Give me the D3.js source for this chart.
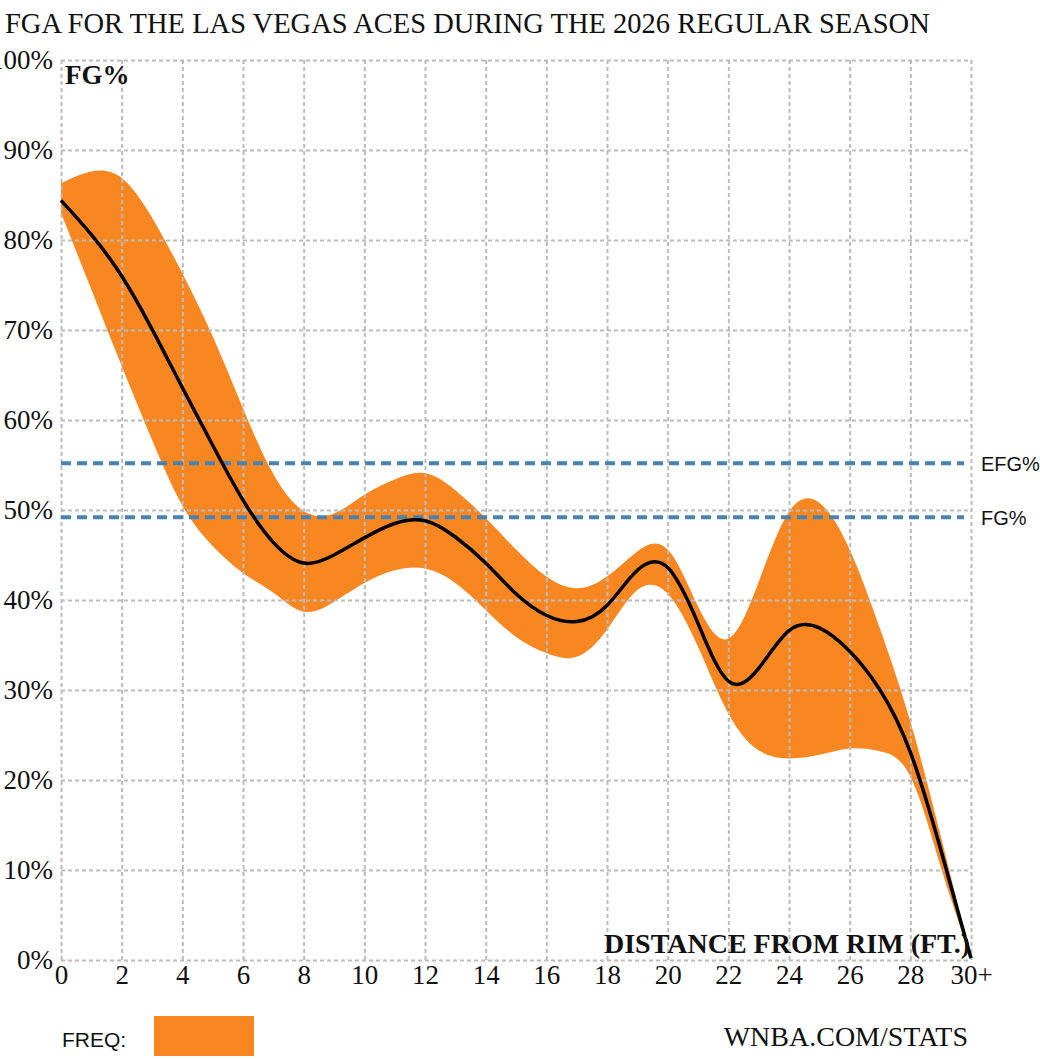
<!DOCTYPE html>
<html>
<head>
<meta charset="utf-8">
<script src="https://cdn.jsdelivr.net/npm/d3@7"></script>
<style>
  body { margin: 0; background: #fff; }
  svg { display: block; }
  .serif { font-family: "Liberation Serif", "Times New Roman", serif; fill: #111; }
  .sans { font-family: "Liberation Sans", Arial, sans-serif; fill: #111; }
  .grid line { stroke: #bbb; stroke-width: 2; stroke-dasharray: 4,3; }
  .grid path { display: none; }
</style>
</head>
<body>
<svg id="chart" width="1040" height="1060"></svg>
<script>
// distance from rim, ft (30 = 30+)
var distances = [0,1,2,3,4,5,6,7,8,9,10,11,12,13,14,15,16,17,18,19,20,21,22,23,24,25,26,27,28,29,30];

// field goal % by distance (black line)
var fgPct = [84.4,80.6,76.0,70.1,63.6,57.2,51.1,46.4,44.1,45.0,46.9,48.5,48.8,47.0,44.1,40.7,38.3,37.6,39.4,43.3,43.6,37.4,31.0,32.4,36.6,36.9,34.3,30.0,23.1,12.3,0.2];

// orange band, upper / lower edge
var bandHigh = [86.3,87.6,86.9,82.5,76.3,69.3,61.3,54.0,49.9,49.6,51.7,53.4,54.1,52.2,49.1,45.6,42.6,41.3,42.6,45.4,45.6,39.3,35.7,42.0,49.8,50.8,45.6,36.8,26.5,13.8,0.2];
var bandLow  = [83.0,74.5,66.0,57.8,50.5,46.0,43.0,40.8,38.7,39.8,41.9,43.3,43.5,41.9,38.9,35.9,34.1,33.7,36.7,41.1,40.7,34.8,27.4,23.3,22.4,22.8,23.5,23.2,20.4,10.4,0.2];

// league reference lines
var refLines = [{label: "EFG%", value: 55.2}, {label: "FG%", value: 49.2}];

var yTicks = [0,10,20,30,40,50,60,70,80,90,100];
var xTicks = [0,2,4,6,8,10,12,14,16,18,20,22,24,26,28,30];

var svg = d3.select("#chart");
var plotLeft = 61, plotRight = 971, plotTop = 60, plotBottom = 960;

var x = d3.scaleLinear().domain([0, 30]).range([plotLeft, plotRight]);
var y = d3.scaleLinear().domain([0, 100]).range([plotBottom, plotTop]);

// title
svg.append("text").attr("class", "serif")
    .attr("x", 5).attr("y", 33)
    .style("font-size", "28.5px")
    .text("FGA FOR THE LAS VEGAS ACES DURING THE 2026 REGULAR SEASON");

// band
var rows = distances.map(function(d, i) {
    return {d: d, fg: fgPct[i], hi: bandHigh[i], lo: bandLow[i]};
});

var area = d3.area()
    .x(function(r) { return x(r.d); })
    .y0(function(r) { return y(r.lo); })
    .y1(function(r) { return y(r.hi); })
    .curve(d3.curveNatural);

svg.append("path").datum(rows)
    .attr("d", area)
    .attr("fill", "#f88621");

// grid
svg.append("g").attr("class", "grid")
    .attr("transform", "translate(" + plotLeft + ",0)")
    .call(d3.axisLeft(y).tickValues(yTicks).tickSize(-(plotRight - plotLeft)).tickFormat(""));

svg.append("g").attr("class", "grid")
    .attr("transform", "translate(0," + plotBottom + ")")
    .call(d3.axisBottom(x).tickValues(xTicks).tickSize(-(plotBottom - plotTop)).tickFormat(""));

// reference lines
refLines.forEach(function(r) {
    svg.append("line")
        .attr("x1", plotLeft).attr("x2", 964)
        .attr("y1", y(r.value)).attr("y2", y(r.value))
        .attr("stroke", "#4682b4")
        .attr("stroke-width", 4)
        .attr("stroke-dasharray", "10,6");
    svg.append("text").attr("class", "sans")
        .attr("x", 981).attr("y", y(r.value) + 3)
        .attr("dominant-baseline", "middle")
        .style("font-size", "20px")
        .text(r.label);
});

// fg% line
var line = d3.line()
    .x(function(r) { return x(r.d); })
    .y(function(r) { return y(r.fg); })
    .curve(d3.curveNatural);

svg.append("path").datum(rows)
    .attr("d", line)
    .attr("fill", "none")
    .attr("stroke", "#000")
    .attr("stroke-width", 3.5);

// axis labels
var yAxis = svg.append("g")
    .attr("transform", "translate(" + (plotLeft - 8) + ",0)")
    .call(d3.axisLeft(y).tickValues(yTicks).tickSize(0).tickPadding(0)
        .tickFormat(function(d) { return d + "%"; }));
yAxis.select(".domain").remove();
yAxis.selectAll("text").attr("class", "serif")
    .style("font-size", "27px")
    .attr("dy", "0.32em");

var xAxis = svg.append("g")
    .attr("transform", "translate(0," + plotBottom + ")")
    .call(d3.axisBottom(x).tickValues(xTicks).tickSize(0).tickPadding(0)
        .tickFormat(function(d) { return d == 30 ? "30+" : d; }));
xAxis.select(".domain").remove();
xAxis.selectAll("text").attr("class", "serif")
    .style("font-size", "27px")
    .attr("y", 24).attr("dy", 0);

svg.append("text").attr("class", "serif")
    .attr("x", 65).attr("y", 84)
    .style("font-size", "27px").style("font-weight", "bold")
    .text("FG%");

svg.append("text").attr("class", "serif")
    .attr("x", 970).attr("y", 953)
    .attr("text-anchor", "end")
    .style("font-size", "28px").style("font-weight", "bold")
    .text("DISTANCE FROM RIM (FT.)");

// legend + source
svg.append("text").attr("class", "sans")
    .attr("x", 62).attr("y", 1047)
    .style("font-size", "21px")
    .text("FREQ:");

svg.append("rect")
    .attr("x", 154).attr("y", 1016)
    .attr("width", 100).attr("height", 40)
    .attr("fill", "#f88621");

svg.append("text").attr("class", "serif")
    .attr("x", 968).attr("y", 1046)
    .attr("text-anchor", "end")
    .style("font-size", "28px")
    .text("WNBA.COM/STATS");
</script>
</body>
</html>
